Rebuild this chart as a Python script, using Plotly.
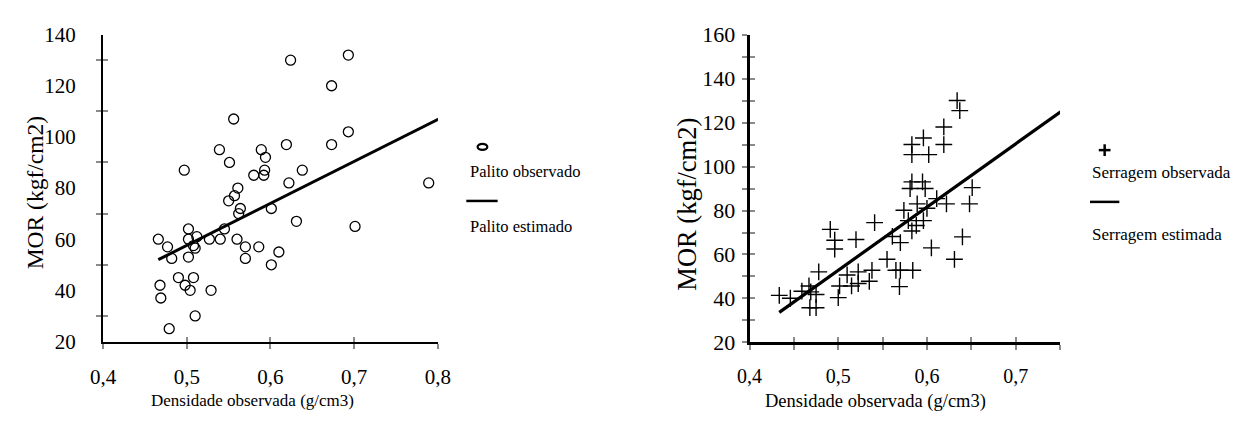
import plotly.graph_objects as go

# ---------------- data ----------------
palito_dens = [0.624, 0.693, 0.673, 0.556, 0.693, 0.539, 0.589, 0.619, 0.673, 0.594,
               0.551, 0.497, 0.593, 0.638, 0.580, 0.592, 0.622, 0.789, 0.561, 0.557,
               0.550, 0.564, 0.601, 0.562, 0.631, 0.701, 0.545, 0.502, 0.466, 0.502,
               0.512, 0.527, 0.540, 0.560, 0.508, 0.510, 0.477, 0.570, 0.586, 0.610,
               0.482, 0.502, 0.570, 0.601, 0.490, 0.508, 0.468, 0.498, 0.504, 0.529,
               0.469, 0.510, 0.479]
palito_mor = [130, 132, 120, 107, 102, 95, 95, 97, 97, 92,
              90, 87, 87, 87, 85, 85, 82, 82, 80, 77,
              75, 72, 72, 70, 67, 65, 64, 64, 60, 60,
              61, 60, 60, 60, 57.5, 56.5, 57, 57, 57, 55,
              52.5, 53, 52.5, 50, 45, 45, 42, 42, 40, 40,
              37, 30, 25]
palito_est_dens = [0.466, 0.801]
palito_est_mor = [52.0, 107.0]

serragem_dens = [0.634, 0.637, 0.619, 0.596, 0.583, 0.619, 0.583, 0.602,
                 0.583, 0.595, 0.581, 0.598, 0.651,
                 0.611, 0.589, 0.622, 0.648, 0.574, 0.600,
                 0.579, 0.596, 0.588, 0.541, 0.583, 0.491,
                 0.561, 0.640, 0.570, 0.496, 0.520, 0.496, 0.605,
                 0.555, 0.631,
                 0.478, 0.510, 0.5225, 0.538, 0.565, 0.570, 0.584,
                 0.5015, 0.515, 0.5225, 0.535, 0.569,
                 0.467, 0.469, 0.459, 0.446, 0.4335, 0.475, 0.500,
                 0.468, 0.475]
serragem_mor = [130, 125.4, 118, 113, 110, 110, 105.4, 105.4,
                93, 93, 90, 90, 90.4,
                85.4, 83, 83, 83, 80.1, 81,
                75.4, 75.4, 73.2, 74.5, 70.7, 71.4,
                68.2, 68, 65.4, 66.5, 66.8, 62.5, 63,
                57.8, 57.8,
                52.1, 50.7, 52.1, 52.8, 52.8, 52.8, 52.8,
                45.7, 45.7, 46.8, 47.8, 45.4,
                45.7, 43, 43.3, 40.1, 41.4, 41.8, 40.4,
                35.8, 35.8]
serragem_est_dens = [0.4335, 0.7507]
serragem_est_mor = [33.7, 124.9]

x_title = "Densidade observada (g/cm3)"
y_title = "MOR (kgf/cm2)"
FONT = "Liberation Serif"

W, H = 1242, 427
def px(x):
    return x / W
def py(y):
    return 1 - y / H

fig = go.Figure()

fig.add_trace(go.Scatter(x=palito_dens, y=palito_mor, mode="markers", xaxis="x", yaxis="y",
                         marker=dict(symbol="circle-open", size=10, color="black",
                                     line=dict(width=1.3, color="black")),
                         name="Palito observado"))
fig.add_trace(go.Scatter(x=palito_est_dens, y=palito_est_mor, mode="lines", xaxis="x", yaxis="y",
                         line=dict(color="black", width=3), name="Palito estimado"))
fig.add_trace(go.Scatter(x=serragem_dens, y=serragem_mor, mode="markers", xaxis="x2", yaxis="y2",
                         marker=dict(symbol="cross-thin-open", size=12, color="black",
                                     line=dict(width=1.4, color="black")),
                         name="Serragem observada"))
fig.add_trace(go.Scatter(x=serragem_est_dens, y=serragem_est_mor, mode="lines", xaxis="x2", yaxis="y2",
                         line=dict(color="black", width=3.2), name="Serragem estimada"))

# empty traces so overlay axes (inner half of crossing ticks) are drawn
for xa, ya in [("x3", "y"), ("x", "y3"), ("x4", "y2"), ("x2", "y4")]:
    fig.add_trace(go.Scatter(x=[], y=[], xaxis=xa, yaxis=ya, showlegend=False, hoverinfo="skip"))

GRAY = "#8a8a8a"
L_XDOM = [px(92), px(434)]
L_YDOM = [py(350), py(24)]
R_XDOM = [px(752.3), px(1069.4)]
R_YDOM = [py(351), py(24)]

def base_axis(**kw):
    d = dict(showgrid=False, zeroline=False, showline=True, linecolor="black",
             tickfont=dict(family=FONT, size=21, color="black"), ticklen=5, tickwidth=2,
             tickcolor=GRAY, ticks="outside")
    d.update(kw)
    return d

def overlay_axis(**kw):
    d = dict(showgrid=False, zeroline=False, showline=False, showticklabels=False,
             ticks="inside", ticklen=5, tickwidth=2, tickcolor=GRAY)
    d.update(kw)
    return d

fig.update_layout(
    width=W, height=H,
    margin=dict(l=0, r=0, t=0, b=0),
    paper_bgcolor="white", plot_bgcolor="white",
    separators=", ",
    showlegend=False,
    font=dict(family=FONT, color="black"),
    # left chart
    xaxis=base_axis(domain=L_XDOM, anchor="y", range=[0.4, 0.8], tick0=0.4, dtick=0.1,
                    linewidth=2, ticklabelstandoff=10,
                    minor=dict(dtick=0.05, ticks="outside", ticklen=5, tickwidth=2, tickcolor="white")),
    yaxis=base_axis(domain=L_YDOM, anchor="x", range=[20, 140], tick0=20, dtick=20,
                    linewidth=2, ticklabelstandoff=16, tickcolor="white",
                    minor=dict(dtick=10, ticks="outside", ticklen=5, tickwidth=2, tickcolor=GRAY)),
    xaxis3=overlay_axis(overlaying="x", anchor="y", range=[0.4, 0.8], tick0=0.4, dtick=0.1,
                        minor=dict(dtick=0.05, ticks="inside", ticklen=5, tickwidth=2, tickcolor="white")),
    yaxis3=overlay_axis(overlaying="y", anchor="x", range=[20, 140], tick0=20, dtick=20, tickcolor="white",
                        minor=dict(dtick=10, ticks="inside", ticklen=5, tickwidth=2, tickcolor=GRAY)),
    # right chart
    xaxis2=base_axis(domain=R_XDOM, anchor="y2", range=[0.4, 0.75], tick0=0.4, dtick=0.1,
                     linewidth=3, ticklabelstandoff=9, tickfont=dict(family=FONT, size=20, color="black"),
                     minor=dict(dtick=0.05, ticks="outside", ticklen=5, tickwidth=2, tickcolor=GRAY)),
    yaxis2=base_axis(domain=R_YDOM, anchor="x2", range=[20, 160], tick0=20, dtick=20,
                     linewidth=3, ticklabelstandoff=2, tickfont=dict(family=FONT, size=22, color="black"),
                     minor=dict(dtick=10, ticks="outside", ticklen=5, tickwidth=2, tickcolor=GRAY)),
    xaxis4=overlay_axis(overlaying="x2", anchor="y2", range=[0.4, 0.75], tick0=0.4, dtick=0.1,
                        minor=dict(dtick=0.05, ticks="inside", ticklen=5, tickwidth=2, tickcolor=GRAY)),
    yaxis4=overlay_axis(overlaying="y2", anchor="x2", range=[20, 160], tick0=20, dtick=20,
                        minor=dict(dtick=10, ticks="inside", ticklen=5, tickwidth=2, tickcolor=GRAY)),
)

annotations = [
    # axis titles
    dict(text=x_title, x=px(245), y=py(413), font=dict(size=17)),
    dict(text=y_title, x=px(22), y=py(192), textangle=-90, font=dict(size=23.5)),
    dict(text=x_title, x=px(881), y=py(414), font=dict(size=18.5)),
    dict(text=y_title, x=px(688), y=py(204), textangle=-90, font=dict(size=26.5)),
    # legend texts
    dict(text="Palito observado", x=px(465), y=py(169), xanchor="left", font=dict(size=16.5)),
    dict(text="Palito estimado", x=px(465), y=py(228), xanchor="left", font=dict(size=16.5)),
    dict(text="Serragem observada", x=px(1100), y=py(170), xanchor="left", font=dict(size=17)),
    dict(text="Serragem estimada", x=px(1100), y=py(236.7), xanchor="left", font=dict(size=17)),
]
for a in annotations:
    a.setdefault("xanchor", "center")
    a.update(xref="paper", yref="paper", yanchor="middle", showarrow=False)
    a["font"] = dict(family=FONT, color="black", **a["font"])
fig.update_layout(annotations=annotations)

# legend keys
shapes = [
    dict(type="circle", x0=px(474.5), x1=px(484.5), y0=py(146.5), y1=py(140), line=dict(color="black", width=2.2)),
    dict(type="line", x0=px(463), x1=px(495), y0=py(200.7), y1=py(200.7), line=dict(color="black", width=2.5)),
    dict(type="line", x0=px(1109), x1=px(1121), y0=py(146.7), y1=py(146.7), line=dict(color="black", width=2.5)),
    dict(type="line", x0=px(1115), x1=px(1115), y0=py(140.5), y1=py(153), line=dict(color="black", width=2.5)),
    dict(type="line", x0=px(1100), x1=px(1130), y0=py(201.7), y1=py(201.7), line=dict(color="black", width=2.5)),
]
for s in shapes:
    s.update(xref="paper", yref="paper")
fig.update_layout(shapes=shapes)

fig.write_html("out.html")
